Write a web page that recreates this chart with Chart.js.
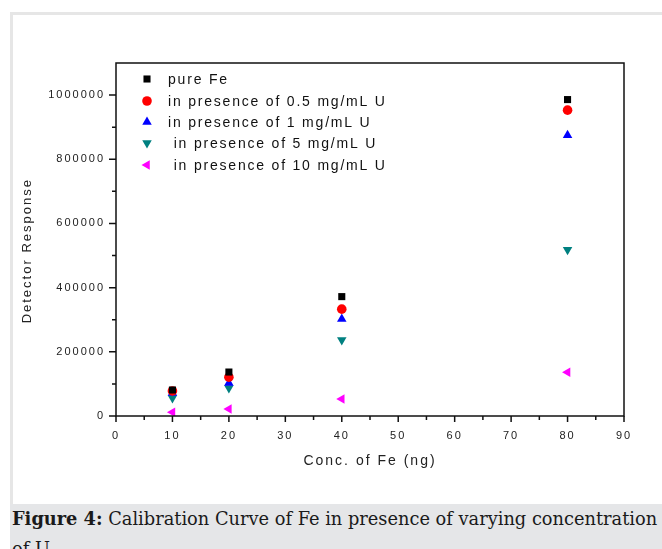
<!DOCTYPE html>
<html>
<head>
<meta charset="utf-8">
<script src="https://cdn.jsdelivr.net/npm/chart.js@4/dist/chart.umd.min.js"></script>
<style>
  html, body { margin: 0; padding: 0; background: #fff; }
  body { width: 662px; height: 549px; position: relative; overflow: hidden; }
  .frame { position: absolute; left: 10px; top: 12px; width: 700px; height: 500px;
           border-left: 3px solid #e6e6e6; border-top: 3px solid #e6e6e6; }
  #chart { position: absolute; left: 0; top: 0; }
  .caption { position: absolute; left: 10px; top: 504px; width: 652px; height: 45px;
             background: #e5e6e8; overflow: hidden; white-space: nowrap;
             font-family: "DejaVu Serif", serif; font-size: 17.8px; line-height: 30px;
             color: #1a1a1a; padding-left: 2px; box-sizing: border-box; }
  .caption b { font-weight: bold; }
</style>
</head>
<body>
<div class="frame"></div>
<canvas id="chart" width="662" height="503"></canvas>
<div class="caption"><b>Figure 4:</b> Calibration Curve of Fe in presence of varying concentration<br>of U</div>
<script>
// ─── Data ────────────────────────────────────────────────────────────────────
const concFe   = [10, 20, 40, 80];
const pureFe   = [81000, 137000, 372000, 986000];
const withU05  = [78000, 121000, 333000, 953000];
const withU1   = [72000, 103000, 302000, 875000];
const withU5   = [56000, 87000, 237000, 518000];
const withU10  = [12000, 22000, 53000, 136000];

const seriesLabels = [
  'pure Fe',
  'in presence of 0.5 mg/mL U',
  'in presence of 1 mg/mL U',
  ' in presence of 5 mg/mL U',
  ' in presence of 10 mg/mL U',
];
const xTicks = [0, 10, 20, 30, 40, 50, 60, 70, 80, 90];
const yTicks = [0, 200000, 400000, 600000, 800000, 1000000];

const FONT = '"Liberation Sans", Arial, sans-serif';

const pts = (ys) => concFe.map((x, i) => ({ x, y: ys[i] }));

// ─── Plugins ─────────────────────────────────────────────────────────────────
const spacing = {
  id: 'spacing',
  beforeLayout(chart) { chart.ctx.letterSpacing = '2px'; },
  beforeDraw(chart)   { chart.ctx.letterSpacing = '2px'; },
};

const frameAndTicks = {
  id: 'frameAndTicks',
  afterDraw(chart) {
    const { ctx, chartArea: a, scales: { x, y } } = chart;
    ctx.save();
    ctx.strokeStyle = '#111';
    ctx.lineWidth = 1.5;
    ctx.strokeRect(a.left, a.top, a.right - a.left, a.bottom - a.top);
    ctx.beginPath();
    for (let v = 0; v <= 1000000; v += 100000) {
      const py = y.getPixelForValue(v);
      const len = v % 200000 === 0 ? 7 : 4;
      ctx.moveTo(a.left - len, py); ctx.lineTo(a.left, py);
    }
    for (let v = 0; v <= 90; v += 5) {
      const px = x.getPixelForValue(v);
      const len = v % 10 === 0 ? 6 : 4;
      ctx.moveTo(px, a.bottom); ctx.lineTo(px, a.bottom + len);
    }
    ctx.stroke();

    // legend inside the plot, top left
    ctx.letterSpacing = '1.8px';
    ctx.font = '14px ' + FONT;
    ctx.textBaseline = 'middle';
    const rows = [79, 101, 122, 143, 165];
    chart.data.datasets.forEach((ds, i) => {
      const opts = {
        pointStyle: ds.pointStyle, radius: ds.pointRadius, rotation: ds.rotation || 0,
        borderWidth: 0,
      };
      ctx.fillStyle = ds.backgroundColor;
      ctx.strokeStyle = ds.backgroundColor;
      Chart.helpers.drawPoint(ctx, opts, 147, rows[i]);
      ctx.fillStyle = '#111';
      ctx.fillText(ds.label, 168, rows[i] + 1);
    });
    ctx.restore();
  },
};

// ─── Chart ───────────────────────────────────────────────────────────────────
const mk = (label, data, color, style, radius, rotation) => ({
  label, data: pts(data), backgroundColor: color, borderColor: color, borderWidth: 0,
  pointStyle: style, pointRadius: radius, pointHoverRadius: radius, rotation: rotation,
});

new Chart(document.getElementById('chart'), {
  type: 'scatter',
  data: {
    datasets: [
      mk(seriesLabels[0], pureFe,  '#000000', 'rect',     5,   0),
      mk(seriesLabels[1], withU05, '#ff0000', 'circle',   4.8, 0),
      mk(seriesLabels[2], withU1,  '#0000ff', 'triangle', 5.5, 0),
      mk(seriesLabels[3], withU5,  '#008080', 'triangle', 5.5, 180),
      mk(seriesLabels[4], withU10, '#ff00ff', 'triangle', 5.5, 270),
    ],
  },
  plugins: [spacing, frameAndTicks],
  options: {
    responsive: false,
    animation: false,
    devicePixelRatio: 1,
    layout: { padding: { top: 63, right: 38, left: 0, bottom: 0 } },
    plugins: { legend: { display: false }, tooltip: { enabled: false } },
    scales: {
      x: {
        type: 'linear', min: 0, max: 90,
        afterBuildTicks: (s) => { s.ticks = xTicks.map(v => ({ value: v })); },
        afterFit: (s) => { s.height = 87; },
        grid: { drawOnChartArea: false, drawTicks: false },
        border: { display: false },
        ticks: { padding: 13, maxRotation: 0, autoSkip: false, color: '#222',
                 font: { family: FONT, size: 11 }, callback: (v) => String(v) },
        title: { display: true, text: 'Conc. of Fe (ng)', color: '#222',
                 font: { family: FONT, size: 14 }, padding: 33 },
      },
      y: {
        type: 'linear', min: 0, max: 1100000,
        afterBuildTicks: (s) => { s.ticks = yTicks.map(v => ({ value: v })); },
        afterFit: (s) => { s.width = 116; },
        grid: { drawOnChartArea: false, drawTicks: false },
        border: { display: false },
        ticks: { padding: 11, autoSkip: false, color: '#222',
                 font: { family: FONT, size: 11 }, callback: (v) => String(v) },
        title: { display: true, text: 'Detector Response    ', color: '#222',
                 font: { family: FONT, size: 13 }, padding: 20 },
      },
    },
  },
});
</script>
</body>
</html>
